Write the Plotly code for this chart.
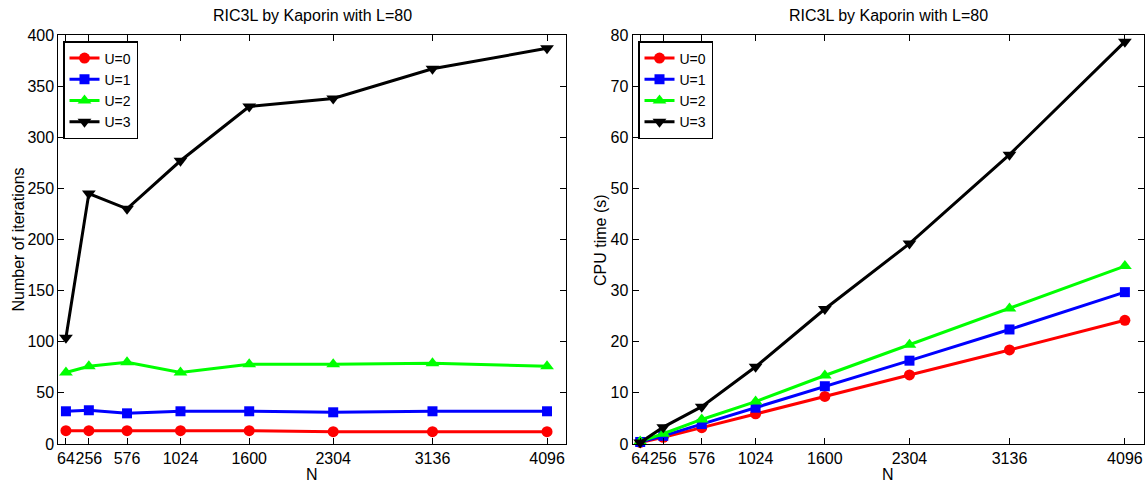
import plotly.graph_objects as go

N = [64, 256, 576, 1024, 1600, 2304, 3136, 4096]
tick_labels = ["64", "256", "576", "1024", "1600", "2304", "3136", "4096"]

iters_u0 = [13, 13, 13, 13, 13, 12, 12, 12]
iters_u1 = [32, 33, 30, 32, 32, 31, 32, 32]
iters_u2 = [70, 76, 80, 70, 78, 78, 79, 76]
iters_u3 = [104, 245, 230, 277, 330, 338, 367, 387]

cpu_u0 = [0.3, 1.3, 3.2, 5.9, 9.3, 13.5, 18.4, 24.2]
cpu_u1 = [0.4, 1.6, 3.9, 7.1, 11.3, 16.3, 22.4, 29.7]
cpu_u2 = [0.5, 2.0, 4.8, 8.3, 13.4, 19.4, 26.5, 34.8]
cpu_u3 = [0.3, 3.3, 7.3, 15.1, 26.4, 39.2, 56.6, 78.7]

names = ["U=0", "U=1", "U=2", "U=3"]
colors = ["#ff0000", "#0000ff", "#00ff00", "#000000"]
symbols = ["circle", "square", "triangle-up", "triangle-down"]
sizes = [11, 10, 12, 12]

FONT = "Liberation Sans, Arial, sans-serif"
W, H = 1147, 482

fig = go.Figure()
left = [iters_u0, iters_u1, iters_u2, iters_u3]
right = [cpu_u0, cpu_u1, cpu_u2, cpu_u3]
for i in range(4):
    fig.add_trace(go.Scatter(x=N, y=left[i], name=names[i], mode="lines+markers",
                             line=dict(color=colors[i], width=3),
                             marker=dict(symbol=symbols[i], size=sizes[i], color=colors[i]),
                             xaxis="x", yaxis="y", legend="legend", cliponaxis=False))
for i in range(4):
    fig.add_trace(go.Scatter(x=N, y=right[i], name=names[i], mode="lines+markers",
                             line=dict(color=colors[i], width=3),
                             marker=dict(symbol=symbols[i], size=sizes[i], color=colors[i]),
                             xaxis="x2", yaxis="y2", legend="legend2", cliponaxis=False))

ydom = [1 - 444 / H, 1 - 35 / H]
axis_common = dict(showline=True, linecolor="black", linewidth=1, mirror="ticks",
                   ticks="inside", ticklen=6, tickcolor="black", showgrid=False,
                   zeroline=False, automargin=False, tickangle=0,
                   tickfont=dict(family=FONT, size=16, color="black"))

legend_common = dict(xanchor="left", yanchor="top", bordercolor="black", borderwidth=1.5,
                     bgcolor="white", font=dict(family=FONT, size=14, color="black"),
                     tracegroupgap=0, itemwidth=30)

fig.update_layout(
    width=W, height=H, margin=dict(l=0, r=0, t=0, b=0, pad=0, autoexpand=False),
    paper_bgcolor="white", plot_bgcolor="white",
    font=dict(family=FONT, color="black"),
    xaxis=dict(domain=[58.3 / W, 566 / W], range=[0, 4255], tickvals=N,
               ticktext=tick_labels, anchor="y", **axis_common),
    yaxis=dict(domain=ydom, range=[0, 400], tickvals=[0, 50, 100, 150, 200, 250, 300, 350, 400],
               anchor="x", **axis_common),
    xaxis2=dict(domain=[632.5 / W, 1144 / W], range=[0, 4255], tickvals=N,
                ticktext=tick_labels, anchor="y2", **axis_common),
    yaxis2=dict(domain=ydom, range=[0, 80], tickvals=[0, 10, 20, 30, 40, 50, 60, 70, 80],
                anchor="x2", **axis_common),
    legend=dict(x=63 / W, y=1 - 41 / H, **legend_common),
    legend2=dict(x=638 / W, y=1 - 41 / H, **legend_common),
    annotations=[
        dict(text="RIC3L by Kaporin with L=80", x=312 / W, y=1 - 15 / H, xref="paper", yref="paper",
             showarrow=False, font=dict(family=FONT, size=16), xanchor="center", yanchor="middle"),
        dict(text="RIC3L by Kaporin with L=80", x=888 / W, y=1 - 15 / H, xref="paper", yref="paper",
             showarrow=False, font=dict(family=FONT, size=16), xanchor="center", yanchor="middle"),
        dict(text="Number of iterations", x=17.5 / W, y=1 - 240 / H, xref="paper", yref="paper",
             showarrow=False, textangle=-90, font=dict(family=FONT, size=16), xanchor="center", yanchor="middle"),
        dict(text="CPU time (s)", x=600 / W, y=1 - 240 / H, xref="paper", yref="paper",
             showarrow=False, textangle=-90, font=dict(family=FONT, size=16), xanchor="center", yanchor="middle"),
        dict(text="N", x=312 / W, y=1 - 474 / H, xref="paper", yref="paper",
             showarrow=False, font=dict(family=FONT, size=16), xanchor="center", yanchor="middle"),
        dict(text="N", x=888 / W, y=1 - 474 / H, xref="paper", yref="paper",
             showarrow=False, font=dict(family=FONT, size=16), xanchor="center", yanchor="middle"),
    ],
)

fig.write_html("out.html")
